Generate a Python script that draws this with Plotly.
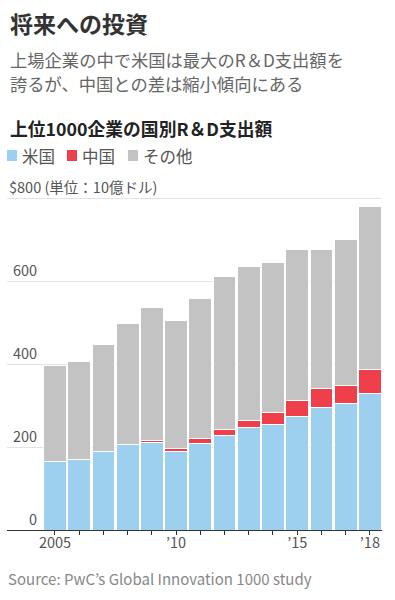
import plotly.graph_objects as go

years = list(range(2005, 2019))
us = [165, 170, 190, 206, 212, 189, 209, 228, 246, 254, 273, 295, 304, 329]
china = [0, 0, 0, 1, 4, 7, 11, 14, 19, 29, 38, 45, 45, 59]
total = [397, 406, 446, 498, 537, 505, 557, 611, 635, 644, 677, 677, 699, 779]
other = [t - u - c for t, u, c in zip(total, us, china)]

tick_years = years
tick_text = ["2005", "", "", "", "", "’10", "", "", "", "", "’15", "", "", "’18"]
y_ticks = [0, 200, 400, 600]
legend_names = ["米国", "中国", "その他"]

FONT = "Noto Sans CJK JP"
BLUE = "#9dcfef"
RED = "#ee3f4a"
GREY = "#c3c3c3"
colors = [BLUE, RED, GREY]

fig = go.Figure()
for name, vals, col in zip(legend_names, [us, china, other], colors):
    fig.add_trace(go.Bar(
        x=years, y=vals, name=name,
        marker=dict(color=col, line=dict(color="white", width=1)),
        hoverinfo="x+y+name",
    ))

W, H = 395, 600
T, B, L, R = 196, 70, 7, 13
pw = W - L - R
ph = H - T - B


def py(p):
    return (H - B - p) / ph


def px(p):
    return (p - L) / pw


fig.update_layout(
    width=W, height=H,
    margin=dict(l=L, r=R, t=T, b=B, autoexpand=False),
    barmode="stack", bargap=0.06,
    plot_bgcolor="white", paper_bgcolor="white",
    font=dict(family=FONT, color="#333"),
    showlegend=False,
    xaxis=dict(range=[2003.02, 2018.5], tickvals=tick_years, ticktext=tick_text,
               ticks="outside", ticklen=4, tickcolor="#333", tickwidth=1,
               ticklabelstandoff=-4,
               showgrid=False, showline=True, linecolor="#333", linewidth=1,
               tickfont=dict(size=14.5, color="#555", family=FONT), fixedrange=True),
    yaxis=dict(range=[0, 805], tickvals=[200, 400, 600, 800], showticklabels=False,
               showgrid=True, gridcolor="#e3e3e3", gridwidth=1, zeroline=False,
               fixedrange=True),
)

ann = []
shapes = []


def text(t, x, y, size, color):
    ann.append(dict(text=t, x=px(x), y=py(y), xref="paper", yref="paper",
                    xanchor="left", yanchor="middle", showarrow=False,
                    font=dict(size=size, color=color)))


text("<b>将来への投資</b>", 8, 23, 23, "#333")
text("上場企業の中で米国は最大のR＆D支出額を", 8, 60, 17.3, "#666")
text("誇るが、中国との差は縮小傾向にある", 8, 83, 17.3, "#666")
text("<b>上位1000企業の国別R＆D支出額</b>", 8, 128, 17.8, "#222")
text("Source: PwC’s Global Innovation 1000 study", 6, 578, 15, "#888")

# legend
leg_x = [7, 67, 128]
for name, col, x0 in zip(legend_names, colors, leg_x):
    shapes.append(dict(type="rect", xref="paper", yref="paper",
                       x0=px(x0), x1=px(x0 + 10), y0=py(161), y1=py(150),
                       fillcolor=col, line=dict(width=0)))
    text(name, x0 + 13, 155.5, 16.5, "#555")

for v in y_ticks:
    ann.append(dict(text=str(v), x=px(39), y=v, xref="paper", yref="y",
                    xanchor="right", yanchor="bottom", showarrow=False, yshift=-1,
                    font=dict(size=14.5, color="#555")))
ann.append(dict(text="$800 (単位：10億ドル)", x=0, y=800, xref="paper", yref="y",
                xanchor="left", yanchor="bottom", showarrow=False, yshift=-1,
                font=dict(size=14.5, color="#555")))

fig.update_layout(annotations=ann, shapes=shapes)

fig.write_html("out.html", config={"displayModeBar": False},
               post_script="document.body.style.margin='0';document.body.style.overflow='hidden';")
